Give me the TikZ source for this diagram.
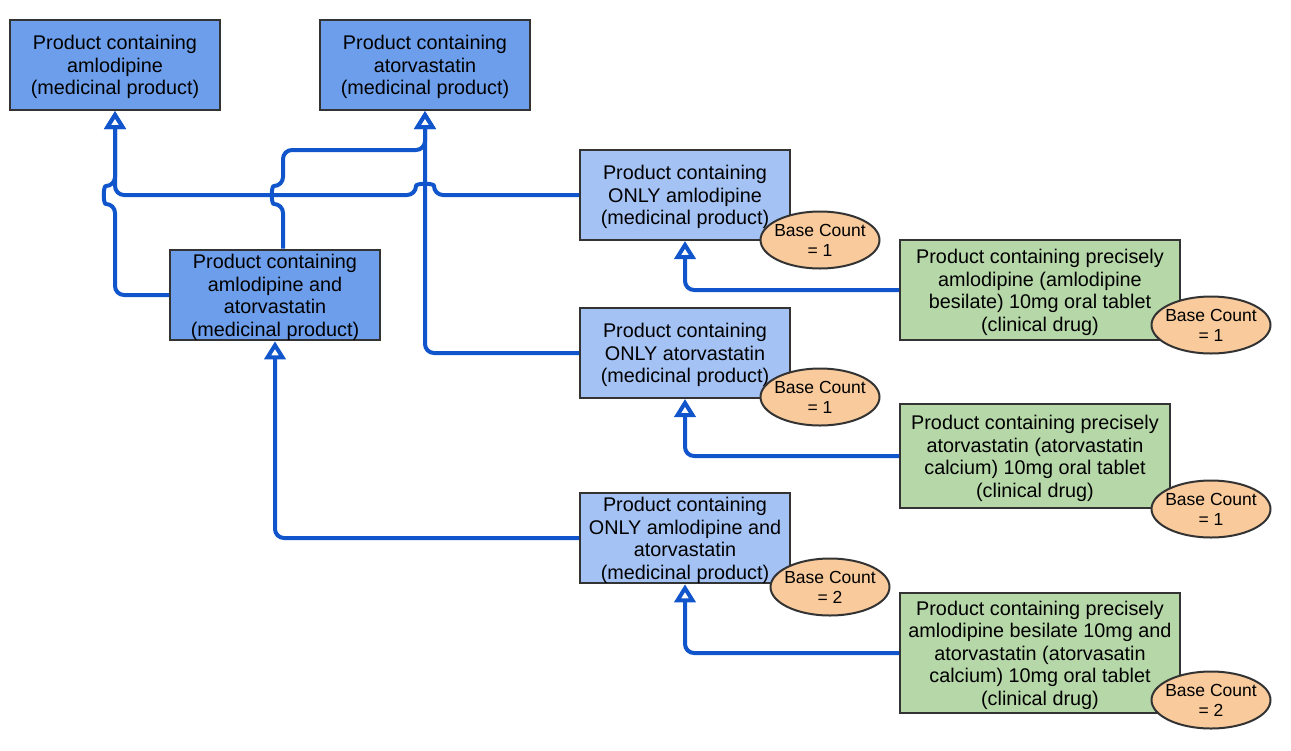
\documentclass[tikz,border=0pt]{standalone}
\usepackage{fontspec}
\setmainfont{Liberation Sans}
\usetikzlibrary{arrows.meta,shapes.geometric}
\definecolor{mpdark}{HTML}{6D9EEB}
\definecolor{mplight}{HTML}{A4C2F4}
\definecolor{cdgreen}{HTML}{B6D7A8}
\definecolor{bcfill}{HTML}{F9CB9C}
\definecolor{bordergray}{HTML}{333333}
\definecolor{linkblue}{HTML}{1155CC}
\newcommand{\tstrut}{\rule{0pt}{19pt}}
\begin{document}
\begin{tikzpicture}[x=1pt,y=-1pt,
  box/.style={draw=bordergray,line width=2pt,inner sep=0pt,align=center,
    font=\fontsize{19.8}{22.5}\selectfont},
  mpbox/.style={box,fill=mpdark,minimum width=210pt,minimum height=90pt},
  onlybox/.style={box,fill=mplight,minimum width=210pt,minimum height=90pt},
  cdbox/.style={box,fill=cdgreen},
  bc/.style={ellipse,draw=bordergray,line width=2pt,fill=bcfill,
    inner xsep=-10pt,inner ysep=-4pt,
    minimum width=119pt,minimum height=57pt,align=center,
    font=\fontsize{17.5}{20}\selectfont},
  link/.style={draw=linkblue,line width=4pt,rounded corners=9pt,
    -{Triangle[open,fill=white,width=21pt,length=18pt]}}
]
\useasboundingbox (0,0) rectangle (1291,750);

% medicinal products
\node[mpbox] (A) at (115,65) {\tstrut Product containing\\amlodipine\\(medicinal product)};
\node[mpbox] (B) at (425,65) {\tstrut Product containing\\atorvastatin\\(medicinal product)};
\node[mpbox] (C) at (275,295) {\tstrut Product containing\\amlodipine and\\atorvastatin\\(medicinal product)};
\node[onlybox] (D) at (685,195) {\tstrut Product containing\\ONLY amlodipine\\(medicinal product)};
\node[onlybox] (E) at (685,353) {\tstrut Product containing\\ONLY atorvastatin\\(medicinal product)};
\node[onlybox] (F) at (685,538) {\tstrut Product containing\\ONLY amlodipine and\\atorvastatin\\(medicinal product)};

% clinical drugs
\node[cdbox,minimum width=280pt,minimum height=100pt] (G) at (1040,290)
  {\tstrut Product containing precisely\\amlodipine (amlodipine\\besilate) 10mg oral tablet\\(clinical drug)};
\node[cdbox,minimum width=270pt,minimum height=104pt] (H) at (1035,456)
  {\tstrut Product containing precisely\\atorvastatin (atorvastatin\\calcium) 10mg oral tablet\\(clinical drug)};
\node[cdbox,minimum width=280pt,minimum height=120pt] (I) at (1040,653)
  {\tstrut Product containing precisely\\amlodipine besilate 10mg and\\atorvastatin (atorvasatin\\calcium) 10mg oral tablet\\(clinical drug)};

% connectors
\draw[link] (D.west) -- (434,195) .. controls (434,183) and (416,183) .. (416,195)
  -- (A.south |- D.west) -- (A.south);
\draw[link] (C.west) -- (A.south |- C.west) -- (115,204)
  .. controls (103,204) and (103,186) .. (115,186) -- (A.south);
\draw[link] ([xshift=8pt]C.north) -- (283,204)
  .. controls (271,204) and (271,186) .. (283,186) -- (283,150) -- (425,150) -- (B.south);
\draw[link] (E.west) -- (B.south |- E.west) -- (B.south);
\draw[link] (F.west) -- (C.south |- F.west) -- (C.south);
\draw[link] (G.west) -- (D.south |- G.west) -- (D.south);
\draw[link] (H.west) -- (E.south |- H.west) -- (E.south);
\draw[link] (I.west) -- (F.south |- I.west) -- (F.south);

% base counts
\node[bc] (bD) at (820,240) {Base Count\\= 1};
\node[bc] (bE) at (820,397) {Base Count\\= 1};
\node[bc] (bF) at (830,587) {Base Count\\= 2};
\node[bc] (bG) at (1211,325) {Base Count\\= 1};
\node[bc] (bH) at (1211,509) {Base Count\\= 1};
\node[bc] (bI) at (1211,700) {Base Count\\= 2};
\end{tikzpicture}
\end{document}
